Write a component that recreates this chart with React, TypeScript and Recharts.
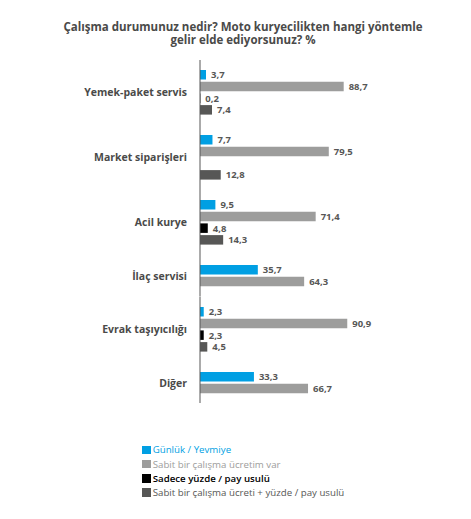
import React from 'react';
import { BarChart, Bar, XAxis, YAxis, LabelList } from 'recharts';

const categories = [
  'Yemek-paket servis',
  'Market siparişleri',
  'Acil kurye',
  'İlaç servisi',
  'Evrak taşıyıcılığı',
  'Diğer',
];

const gunluk = [3.7, 7.7, 9.5, 35.7, 2.3, 33.3];
const sabitUcret = [88.7, 79.5, 71.4, 64.3, 90.9, 66.7];
const sadeceYuzde = [0.2, null, 4.8, null, 2.3, null];
const sabitArtiYuzde = [7.4, 12.8, 14.3, null, 4.5, null];

const seriesNames = [
  'Günlük / Yevmiye',
  'Sabit bir çalışma ücretim var',
  'Sadece yüzde / pay usulü',
  'Sabit bir çalışma ücreti + yüzde / pay usulü',
];
const seriesKeys = ['s0', 's1', 's2', 's3'];
const seriesColors = ['#009FE3', '#9D9D9C', '#000000', '#575756'];
const seriesValues: (number | null)[][] = [gunluk, sabitUcret, sadeceYuzde, sabitArtiYuzde];

const titleLines = [
  'Çalışma durumunuz nedir? Moto kuryecilikten hangi yöntemle',
  'gelir elde ediyorsunuz? %',
];

const FONT = '"Open Sans", Lato, sans-serif';
const PITCH = 11.7;
const GAP = 18.2;
const BAR = 9.5;

function fmt(v: any) {
  return v == null ? '' : String(v).replace('.', ',');
}

function CategoryChart({ index }: { index: number }) {
  const row: any = { name: categories[index] };
  let slots = 0;
  seriesValues.forEach((vals, s) => {
    row[seriesKeys[s]] = vals[index];
    if (vals[index] != null) slots = s + 1;
  });
  const height = slots * PITCH + GAP;
  return (
    <BarChart
      width={400}
      height={height}
      data={[row]}
      layout="vertical"
      margin={{ top: 0, right: 46, bottom: 0, left: 0 }}
      barSize={BAR}
      barGap={PITCH - BAR}
      style={{ display: 'block' }}
    >
      <XAxis type="number" domain={[0, 100]} hide />
      <YAxis
        type="category"
        dataKey="name"
        width={192}
        axisLine={{ stroke: '#575756', strokeWidth: 1 }}
        tickLine={false}
        tickSize={0}
        tickMargin={13}
        tick={{ fontSize: 10.5, fontWeight: 700, fill: '#4a4a49', fontFamily: FONT }}
      />
      {seriesKeys.slice(0, slots).map((k, s) => (
        <Bar key={k} dataKey={k} fill={seriesColors[s]} isAnimationActive={false}>
          <LabelList
            dataKey={k}
            position="right"
            offset={5}
            formatter={fmt}
            fill="#575756"
            fontSize={9.5}
            fontWeight={700}
            fontFamily={FONT}
          />
        </Bar>
      ))}
    </BarChart>
  );
}

export default function App() {
  return (
    <div style={{ position: 'relative', width: 455, height: 503, fontFamily: FONT, background: '#fff' }}>
      <div
        style={{
          position: 'absolute',
          left: 0,
          top: 11.5,
          width: 470,
          textAlign: 'center',
          fontSize: 11.5,
          fontWeight: 700,
          lineHeight: '13.5px',
          color: '#4a4a49',
        }}
      >
        {titleLines.map((t) => (
          <div key={t}>{t}</div>
        ))}
      </div>
      <div style={{ position: 'absolute', left: 0, top: 52.2 }}>
        {categories.map((c, i) => (
          <CategoryChart key={c} index={i} />
        ))}
      </div>
      <div style={{ position: 'absolute', left: 133.7, top: 434.7 }}>
        {seriesNames.map((n, s) => (
          <div key={n} style={{ display: 'flex', alignItems: 'center', height: 14.3 }}>
            <span style={{ display: 'inline-block', width: 9, height: 8.5, background: seriesColors[s], marginRight: 2 }} />
            <span style={{ fontSize: 9.7, color: seriesColors[s], whiteSpace: 'nowrap', fontWeight: s === 2 ? 600 : 400 }}>{n}</span>
          </div>
        ))}
      </div>
    </div>
  );
}
